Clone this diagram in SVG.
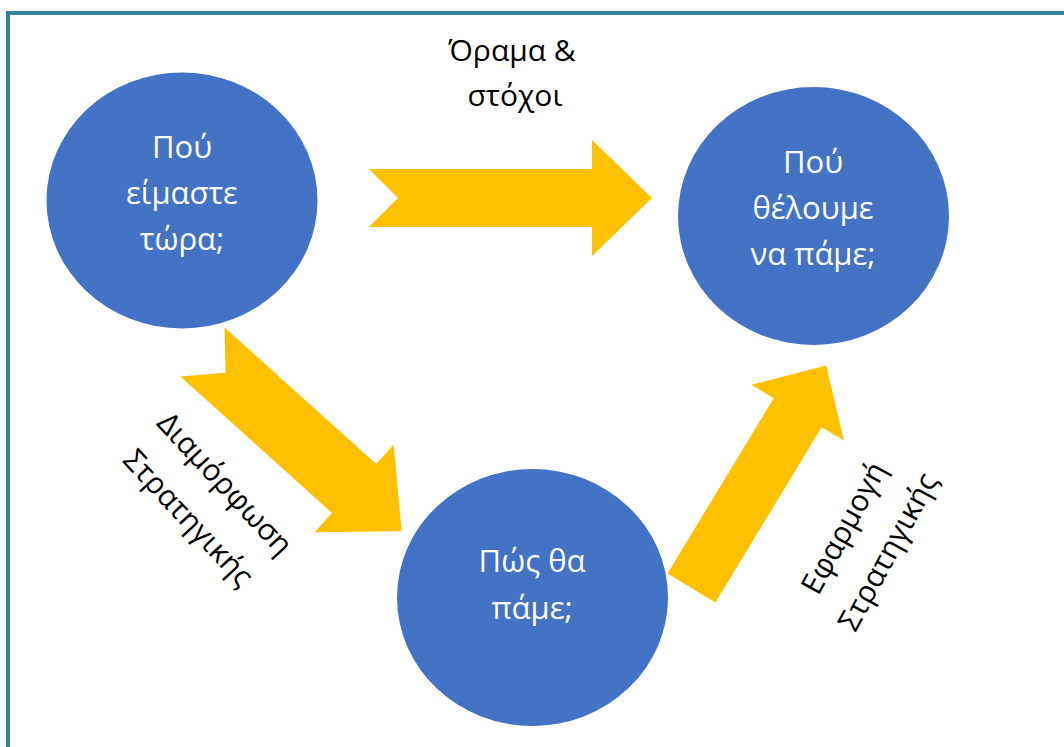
<svg xmlns="http://www.w3.org/2000/svg" width="1064" height="747" viewBox="0 0 1064 747">
  <style>
    .node { fill: #4472C4; }
    .arrow { fill: #FFC000; }
    .ntext { font-family: "Open Sans", "Noto Sans", sans-serif; font-size: 31px; fill: #FFFFFF; text-anchor: middle; }
    .ltext { font-family: "Open Sans", "Noto Sans", sans-serif; font-size: 30px; fill: #000000; text-anchor: middle; }
  </style>
  <rect x="0" y="0" width="1064" height="747" fill="#FFFFFF"/>
  <rect id="frame" x="8" y="13" width="1100" height="800" fill="#FFFFFF" stroke="#31849B" stroke-width="4"/>

  <g id="connectors">
    <polygon id="arrow-top" class="arrow" points="369,169 592,169 592,140 652,198 592,256 592,227 369,227 398,198"/>
    <polygon id="arrow-left" class="arrow" transform="translate(202.5 352) rotate(42)" points="0,-33 204,-33 204,-59 268,0 204,59 204,33 0,33 31,0"/>
    <polygon id="arrow-right" class="arrow" transform="translate(691.5 588) rotate(-58.8)" points="0,-28 205,-28 205,-54 260,0 205,54 205,28 0,28"/>
    <g id="label-top">
      <text x="512" y="61" class="ltext">Όραμα &amp;</text>
      <text x="515" y="106" class="ltext">στόχοι</text>
    </g>
    <g id="label-left" transform="translate(206.5 501) rotate(47)">
      <text x="0" y="-15" class="ltext">Διαμόρφωση</text>
      <text x="0" y="35" class="ltext">Στρατηγικής</text>
    </g>
    <g id="label-right" transform="translate(866 540) rotate(-61.5)">
      <text x="0" y="-15" class="ltext">Εφαρμογή</text>
      <text x="0" y="35" class="ltext">Στρατηγικής</text>
    </g>
  </g>

  <g id="node-now">
    <ellipse class="node" cx="182" cy="200.5" rx="135.5" ry="128"/>
    <text x="182" y="158" class="ntext">Πού</text>
    <text x="182" y="204" class="ntext">είμαστε</text>
    <text x="182" y="250" class="ntext">τώρα;</text>
  </g>
  <g id="node-goal">
    <ellipse class="node" cx="813.5" cy="216" rx="135.5" ry="129"/>
    <text x="813" y="173" class="ntext">Πού</text>
    <text x="813" y="219" class="ntext">θέλουμε</text>
    <text x="813" y="265" class="ntext">να πάμε;</text>
  </g>
  <g id="node-how">
    <ellipse class="node" cx="532.5" cy="597.5" rx="135.5" ry="128.5"/>
    <text x="532" y="572" class="ntext">Πώς θα</text>
    <text x="532" y="619" class="ntext">πάμε;</text>
  </g>
</svg>
